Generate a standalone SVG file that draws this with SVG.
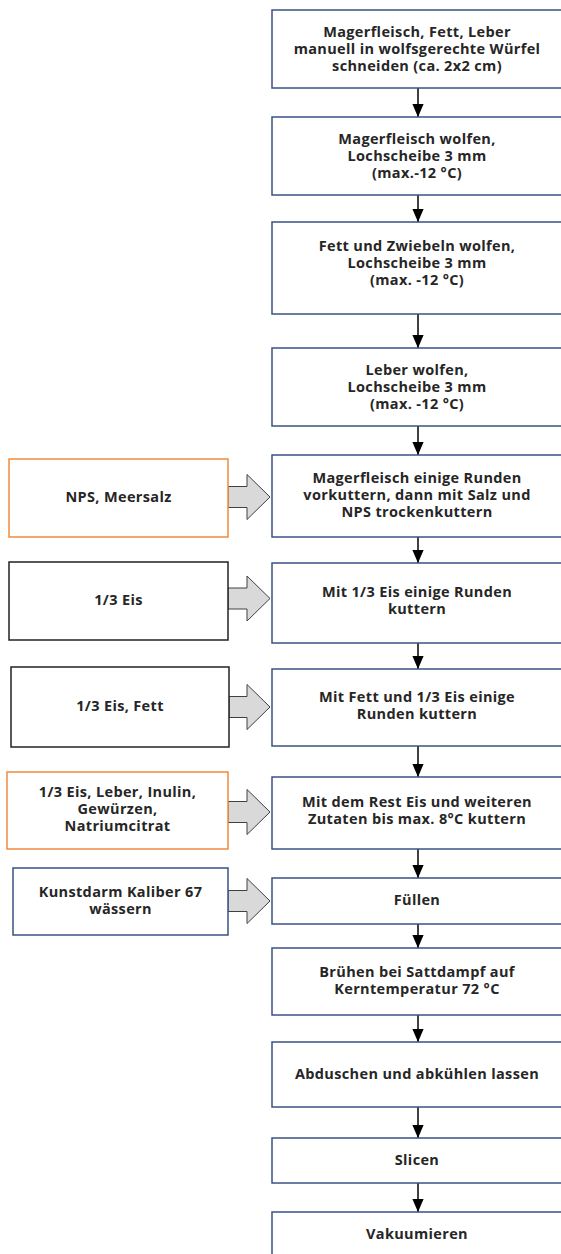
<svg xmlns="http://www.w3.org/2000/svg" width="561" height="1254" viewBox="0 0 561 1254">
<defs>
<style>
.b{fill:#fff;stroke:#3a5283;stroke-width:1.5}
.o{fill:#fff;stroke:#f08a3c;stroke-width:1.5}
.k{fill:#fff;stroke:#222;stroke-width:1.5}
text{font-family:"Open Sans","Liberation Sans",sans-serif;font-weight:700;font-size:14.5px;letter-spacing:0.35px;fill:#262626;text-anchor:middle}
.c{stroke:#000;stroke-width:1.5;fill:none}
.ba{fill:#d9d9d9;stroke:#404040;stroke-width:1}
</style>
<marker id="ah" markerWidth="13" markerHeight="15" refX="15" refY="6.5" orient="auto" markerUnits="userSpaceOnUse" viewBox="0 0 15 13">
<path d="M0,0 L15,6.5 L0,13 Z" fill="#000"/>
</marker>
</defs>

<g id="connectors">
<path class="c" d="M418,88 V117" marker-end="url(#ah)"/>
<path class="c" d="M418,195 V222" marker-end="url(#ah)"/>
<path class="c" d="M418,314 V348" marker-end="url(#ah)"/>
<path class="c" d="M418,426 V455" marker-end="url(#ah)"/>
<path class="c" d="M418,537 V563" marker-end="url(#ah)"/>
<path class="c" d="M418,643 V669" marker-end="url(#ah)"/>
<path class="c" d="M418,746 V777" marker-end="url(#ah)"/>
<path class="c" d="M418,849 V878" marker-end="url(#ah)"/>
<path class="c" d="M418,924 V948" marker-end="url(#ah)"/>
<path class="c" d="M418,1015 V1042" marker-end="url(#ah)"/>
<path class="c" d="M418,1107 V1138" marker-end="url(#ah)"/>
<path class="c" d="M418,1183 V1212" marker-end="url(#ah)"/>
<path class="ba" d="M228,486.5 H247 V474.5 L270,497 L247,519.5 V507.5 H228 Z"/>
<path class="ba" d="M228,588 H247 V576 L270,598.5 L247,621 V609 H228 Z"/>
<path class="ba" d="M229,696.5 H247 V684.5 L270,707 L247,729.5 V717.5 H229 Z"/>
<path class="ba" d="M228,801.5 H247 V789.5 L270,812 L247,834.5 V822.5 H228 Z"/>
<path class="ba" d="M228,890.5 H247 V878.5 L270,901 L247,923.5 V911.5 H228 Z"/>
</g>

<g id="n1"><rect class="b" x="272" y="10" width="300" height="78"/>
<text x="417" y="37">Magerfleisch, Fett, Leber</text><text x="417" y="54">manuell in wolfsgerechte Würfel</text><text x="417" y="71">schneiden (ca. 2x2 cm)</text></g>
<g id="n2"><rect class="b" x="272" y="117" width="300" height="78"/>
<text x="417" y="144">Magerfleisch wolfen,</text><text x="417" y="161">Lochscheibe 3 mm</text><text x="417" y="178">(max.-12 °C)</text></g>
<g id="n3"><rect class="b" x="272" y="222" width="300" height="92"/>
<text x="417" y="251">Fett und Zwiebeln wolfen,</text><text x="417" y="268">Lochscheibe 3 mm</text><text x="417" y="285">(max. -12 °C)</text></g>
<g id="n4"><rect class="b" x="272" y="348" width="300" height="78"/>
<text x="417" y="375">Leber wolfen,</text><text x="417" y="392">Lochscheibe 3 mm</text><text x="417" y="409">(max. -12 °C)</text></g>
<g id="n5"><rect class="b" x="272" y="455" width="300" height="82"/>
<text x="417" y="483">Magerfleisch einige Runden</text><text x="417" y="500">vorkuttern, dann mit Salz und</text><text x="417" y="517">NPS trockenkuttern</text></g>
<g id="n6"><rect class="b" x="272" y="563" width="300" height="80"/>
<text x="417" y="597">Mit 1/3 Eis einige Runden</text><text x="417" y="614">kuttern</text></g>
<g id="n7"><rect class="b" x="272" y="669" width="300" height="77"/>
<text x="417" y="702">Mit Fett und 1/3 Eis einige</text><text x="417" y="719">Runden kuttern</text></g>
<g id="n8"><rect class="b" x="272" y="777" width="300" height="72"/>
<text x="417" y="807">Mit dem Rest Eis und weiteren</text><text x="417" y="824">Zutaten bis max. 8°C kuttern</text></g>
<g id="n9"><rect class="b" x="272" y="878" width="300" height="46"/>
<text x="417" y="905">Füllen</text></g>
<g id="n10"><rect class="b" x="272" y="948" width="300" height="67"/>
<text x="417" y="977">Brühen bei Sattdampf auf</text><text x="417" y="994">Kerntemperatur 72 °C</text></g>
<g id="n11"><rect class="b" x="272" y="1042" width="300" height="65"/>
<text x="417" y="1079">Abduschen und abkühlen lassen</text></g>
<g id="n12"><rect class="b" x="272" y="1138" width="300" height="45"/>
<text x="417" y="1165">Slicen</text></g>
<g id="n13"><rect class="b" x="272" y="1212" width="300" height="60"/>
<text x="417" y="1239">Vakuumieren</text></g>

<g id="s1"><rect class="o" x="9" y="459" width="219" height="78"/>
<text x="118.5" y="502">NPS, Meersalz</text></g>
<g id="s2"><rect class="k" x="9" y="562" width="219" height="78"/>
<text x="118.5" y="605">1/3 Eis</text></g>
<g id="s3"><rect class="k" x="11" y="667" width="218" height="80"/>
<text x="120" y="711">1/3 Eis, Fett</text></g>
<g id="s4"><rect class="o" x="7" y="772" width="221" height="77"/>
<text x="117.5" y="797">1/3 Eis, Leber, Inulin,</text><text x="117.5" y="814">Gewürzen,</text><text x="117.5" y="831">Natriumcitrat</text></g>
<g id="s5"><rect class="b" x="13" y="868" width="215" height="67"/>
<text x="120.5" y="897">Kunstdarm Kaliber 67</text><text x="120.5" y="914">wässern</text></g>
</svg>
